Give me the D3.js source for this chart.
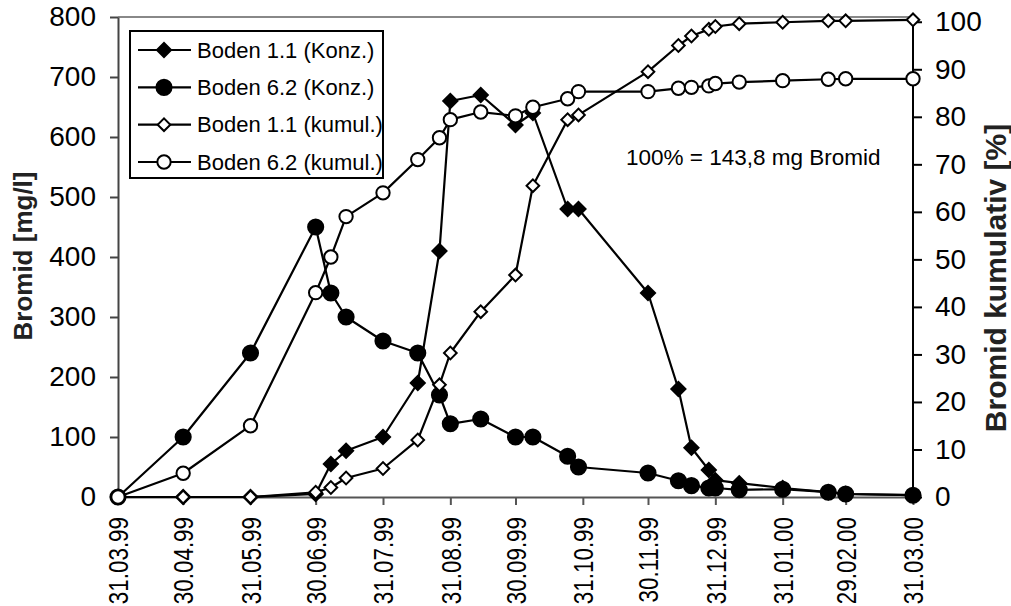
<!DOCTYPE html>
<html>
<head>
<meta charset="utf-8">
<script src="https://cdn.jsdelivr.net/npm/d3@7"></script>
<style>
  body { margin: 0; background: #fff; }
  svg { display: block; font-family: "Liberation Sans", Arial, sans-serif; }
</style>
</head>
<body>
<div id="chart"></div>
<script>
// ---- data ----
const dates = ["31.03.99", "30.04.99", "31.05.99", "30.06.99", "07.07.99", "14.07.99", "31.07.99",
  "16.08.99", "26.08.99", "31.08.99", "14.09.99", "30.09.99", "08.10.99", "24.10.99", "29.10.99",
  "30.11.99", "14.12.99", "20.12.99", "28.12.99", "31.12.99", "11.01.00", "31.01.00", "21.02.00",
  "29.02.00", "31.03.00"];

// concentrations [mg/l] (left axis)
const konz11 = [0, 0, 0, 5, 55, 77, 100, 190, 410, 660, 670, 620, 640, 480, 480, 340, 180, 82, 45, 28, 23, 15, 8, 5, 3];
const konz62 = [0, 100, 240, 450, 340, 300, 260, 240, 170, 122, 130, 100, 100, 68, 50, 40, 27, 19, 15, 15, 12, 13, 8, 5, 3];

// cumulative [%] (right axis)
const kum11 = [0, 0, 0, 1, 2, 4, 6, 12, 23.6, 30.3, 39, 46.7, 65.5, 79.4, 80.4, 89.5, 95, 97, 98.4, 99, 99.6, 99.9, 100.2, 100.2, 100.4];
const kum62 = [0, 5, 15, 43, 50.5, 59, 64, 71, 75.6, 79.4, 81, 80.2, 82, 83.8, 85.3, 85.3, 86, 86.2, 86.5, 87, 87.3, 87.6, 87.9, 88, 88];

const xTickLabels = ["31.03.99", "30.04.99", "31.05.99", "30.06.99", "31.07.99", "31.08.99", "30.09.99",
  "31.10.99", "30.11.99", "31.12.99", "31.01.00", "29.02.00", "31.03.00"];
const yLeftTicks = [0, 100, 200, 300, 400, 500, 600, 700, 800];
const yRightTicks = [0, 10, 20, 30, 40, 50, 60, 70, 80, 90, 100];

const seriesNames = ["Boden 1.1 (Konz.)", "Boden 6.2 (Konz.)", "Boden 1.1 (kumul.)", "Boden 6.2 (kumul.)"];

// ---- layout ----
const WIDTH = 1011;
const HEIGHT = 606;
const LEFT = 118, RIGHT = 913, TOP = 17, BOTTOM = 497;

const parse = d3.timeParse("%d.%m.%y");
const fmt = d3.timeFormat("%d.%m.%y");

const svg = d3.select("#chart").append("svg")
  .attr("width", WIDTH)
  .attr("height", HEIGHT);

const x = d3.scaleTime()
  .domain([parse("31.03.99"), parse("31.03.00")])
  .range([LEFT, RIGHT]);
const yL = d3.scaleLinear().domain([0, 800]).range([BOTTOM, TOP]);
const yR = d3.scaleLinear().domain([0, 101]).range([BOTTOM, TOP]);

// top border of plot area
svg.append("line")
  .attr("x1", LEFT).attr("x2", RIGHT)
  .attr("y1", TOP).attr("y2", TOP)
  .attr("stroke", "#888").attr("stroke-width", 2);

// ---- axes ----
const xAxis = svg.append("g")
  .attr("transform", `translate(0,${BOTTOM})`)
  .call(d3.axisBottom(x)
    .tickValues(xTickLabels.map(parse))
    .tickFormat(fmt)
    .tickSize(8)
    .tickSizeOuter(0));
xAxis.selectAll("path, line").attr("stroke", "#555").attr("stroke-width", 2);
// condensed, rotated date labels
xAxis.selectAll("text")
  .attr("font-size", 28)
  .attr("fill", "#000")
  .attr("text-anchor", "end")
  .attr("transform", "rotate(-90) scale(0.8,1)")
  .attr("x", -25)
  .attr("y", 0)
  .attr("dy", "0.35em");

const yAxisL = svg.append("g")
  .attr("transform", `translate(${LEFT},0)`)
  .call(d3.axisLeft(yL).tickValues(yLeftTicks).tickSize(8).tickSizeOuter(0).tickPadding(14));
yAxisL.selectAll("path, line").attr("stroke", "#444").attr("stroke-width", 2);
yAxisL.selectAll("text").attr("font-size", 28).attr("fill", "#000")
  .attr("font-family", '"Liberation Sans", Arial, sans-serif');

const yAxisR = svg.append("g")
  .attr("transform", `translate(${RIGHT},0)`)
  .call(d3.axisRight(yR).tickValues(yRightTicks).tickSize(9).tickSizeOuter(0).tickPadding(13));
yAxisR.select("path").attr("d", `M0,${BOTTOM}V${TOP}`);
yAxisR.selectAll("path, line").attr("stroke", "#000").attr("stroke-width", 2);
yAxisR.selectAll("text").attr("font-size", 28).attr("fill", "#000")
  .attr("font-family", '"Liberation Sans", Arial, sans-serif');

// axis titles
svg.append("text")
  .attr("transform", `translate(32,256) rotate(-90)`)
  .attr("text-anchor", "middle")
  .attr("font-size", 26)
  .attr("font-weight", "bold")
  .attr("fill", "#222")
  .text("Bromid [mg/l]");

svg.append("text")
  .attr("transform", `translate(1006,278) rotate(-90)`)
  .attr("text-anchor", "middle")
  .attr("font-size", 30)
  .attr("font-weight", "bold")
  .attr("fill", "#222")
  .text("Bromid kumulativ [%]");

// ---- series ----
const circle = d3.symbol(d3.symbolCircle);
const square = d3.symbol(d3.symbolSquare);

const series = [
  { name: seriesNames[0], values: konz11, y: yL, shape: "diamond", filled: true },
  { name: seriesNames[1], values: konz62, y: yL, shape: "circle", filled: true },
  { name: seriesNames[2], values: kum11, y: yR, shape: "diamond", filled: false },
  { name: seriesNames[3], values: kum62, y: yR, shape: "circle", filled: false }
];

// returns marker path for a series
const markerPath = s => {
  if (s.shape === "circle") return circle.size(s.filled ? 180 : 140)();
  return square.size(s.filled ? 100 : 80)();
};

const markerRotate = s => s.shape === "diamond" ? " rotate(45)" : "";

const line = d3.line();

series.forEach(s => {
  const pts = dates.map((d, i) => [x(parse(d)), s.y(s.values[i])]);
  const g = svg.append("g");
  g.append("path")
    .attr("d", line(pts))
    .attr("fill", "none")
    .attr("stroke", "#000")
    .attr("stroke-width", 2.2)
    .attr("stroke-linejoin", "round");
  g.selectAll("path.marker")
    .data(pts)
    .join("path")
    .attr("class", "marker")
    .attr("d", markerPath(s))
    .attr("transform", p => `translate(${p[0]},${p[1]})${markerRotate(s)}`)
    .attr("fill", s.filled ? "#000" : "#fff")
    .attr("stroke", "#000")
    .attr("stroke-width", 2);
});

// ---- legend ----
const legend = svg.append("g");
legend.append("rect")
  .attr("x", 130).attr("y", 31)
  .attr("width", 253).attr("height", 147)
  .attr("fill", "#fff")
  .attr("stroke", "#000")
  .attr("stroke-width", 2);

const rowY = d3.scalePoint().domain(seriesNames).range([50, 162]);

series.forEach(s => {
  const yy = rowY(s.name);
  legend.append("line")
    .attr("x1", 138).attr("x2", 191)
    .attr("y1", yy).attr("y2", yy)
    .attr("stroke", "#000").attr("stroke-width", 2.2);
  legend.append("path")
    .attr("d", markerPath(s))
    .attr("transform", `translate(164,${yy})${markerRotate(s)}`)
    .attr("fill", s.filled ? "#000" : "#fff")
    .attr("stroke", "#000")
    .attr("stroke-width", 2);
  legend.append("text")
    .attr("x", 197).attr("y", yy)
    .attr("dy", "0.35em")
    .attr("font-size", 22)
    .text(s.name);
});

// annotation
svg.append("text")
  .attr("x", 626).attr("y", 165)
  .attr("font-size", 22.5)
  .text("100% = 143,8 mg Bromid");
</script>
</body>
</html>
